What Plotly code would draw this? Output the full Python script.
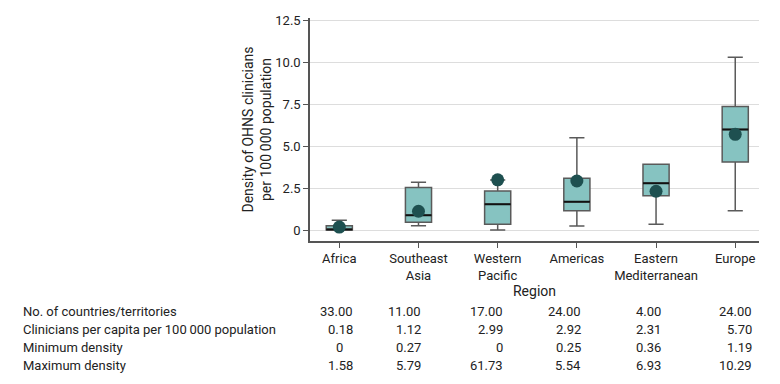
import plotly.graph_objects as go

regions = ["Africa", "Southeast<br>Asia", "Western<br>Pacific", "Americas", "Eastern<br>Mediterranean", "Europe"]
q1 = [0.0, 0.46, 0.34, 1.15, 2.04, 4.05]
median = [0.04, 0.88, 1.53, 1.69, 2.78, 5.99]
q3 = [0.26, 2.54, 2.32, 3.08, 3.91, 7.36]
lower_whisker = [0.0, 0.26, 0.0, 0.24, 0.34, 1.15]
upper_whisker = [0.58, 2.84, 2.98, 5.49, 3.91, 10.28]
per_capita = [0.18, 1.12, 2.99, 2.92, 2.31, 5.70]

row_labels = ["No. of countries/territories",
              "Clinicians per capita per 100\u2009000 population",
              "Minimum density", "Maximum density"]
n_countries = ["33.00", "11.00", "17.00", "24.00", "4.00", "24.00"]
per_capita_txt = ["0.18", "1.12", "2.99", "2.92", "2.31", "5.70"]
min_density = ["0", "0.27", "0", "0.25", "0.36", "1.19"]
max_density = ["1.58", "5.79", "61.73", "5.54", "6.93", "10.29"]

ytick_vals = [0, 2.5, 5, 7.5, 10, 12.5]
ytick_text = ["0", "2.5", "5.0", "7.5", "10.0", "12.5"]

FONT = "Roboto, sans-serif"
TXT = "#222222"

# layout in pixels
L, R, T, B = 310, 21, 18, 143
W, H = 780, 384
PW, PH = W - L - R, H - T - B

def px_x(px):
    return (px - L) / PW

def px_y(py):
    return (H - B - py) / PH

fig = go.Figure()
fig.add_trace(go.Box(
    x=regions, q1=q1, median=median, q3=q3,
    lowerfence=lower_whisker, upperfence=upper_whisker,
    boxpoints=False, width=0.33, whiskerwidth=0.58,
    fillcolor="#86C3C1", line=dict(color="#5A5A5A", width=1.5),
    showlegend=False, hoverinfo="skip"))
# black median line overlay
fig.add_trace(go.Box(
    x=regions, q1=median, median=median, q3=median,
    lowerfence=median, upperfence=median,
    boxpoints=False, width=0.33, whiskerwidth=0,
    fillcolor="rgba(0,0,0,0)", line=dict(color="#111111", width=2),
    showlegend=False, hoverinfo="skip"))
fig.add_trace(go.Scatter(
    x=regions, y=per_capita, mode="markers",
    marker=dict(size=13, color="#1E5050"), showlegend=False))

col_right_px = [355, 423, 505, 583, 663, 754]
row_y_px = [311, 329, 347, 365]
rows = [n_countries, per_capita_txt, min_density, max_density]

ann = []
for lbl, ypx, vals in zip(row_labels, row_y_px, rows):
    ann.append(dict(x=px_x(21), y=px_y(ypx), xref="paper", yref="paper",
                    text=lbl, showarrow=False, xanchor="left", yanchor="middle",
                    font=dict(family=FONT, size=13, color=TXT)))
    for i, v in enumerate(vals):
        if v == "0" and i == 0:
            ann.append(dict(x=px_x(334), y=px_y(ypx), xref="paper", yref="paper",
                            text=v, showarrow=False, xanchor="left", yanchor="middle",
                            font=dict(family=FONT, size=13, color=TXT)))
        else:
            ann.append(dict(x=px_x(col_right_px[i]), y=px_y(ypx), xref="paper", yref="paper",
                            text=v, showarrow=False, xanchor="right", yanchor="middle",
                            font=dict(family=FONT, size=13, color=TXT)))

fig.update_layout(
    width=W, height=H,
    margin=dict(l=L, r=R, t=T, b=B),
    paper_bgcolor="white", plot_bgcolor="white",
    font=dict(family=FONT, size=13, color=TXT),
    annotations=ann, boxmode="overlay",
    xaxis=dict(
        type="category", range=[-0.37, 5.3],
        showline=True, linecolor="#555555", linewidth=1.5,
        ticks="outside", ticklen=5, tickcolor="#555555",
        showgrid=False, tickfont=dict(family=FONT, size=13, color=TXT),
        title=dict(text="Region", standoff=4, font=dict(family=FONT, size=14, color=TXT)),
    ),
    yaxis=dict(
        range=[-0.65, 12.62], tickvals=ytick_vals, ticktext=ytick_text,
        showline=True, linecolor="#555555", linewidth=1.5,
        ticks="outside", ticklen=5, tickcolor="#555555",
        showgrid=True, gridcolor="#DDDDDD", gridwidth=1.2, zeroline=False,
        tickfont=dict(family=FONT, size=13, color=TXT),
        title=dict(text="Density of OHNS clinicians<br>per 100\u2009000 population",
                   standoff=0, font=dict(family=FONT, size=14, color=TXT)),
    ),
)

fig.write_html("out.html", config={"displayModeBar": False},
               post_script="document.body.style.margin='0';")
